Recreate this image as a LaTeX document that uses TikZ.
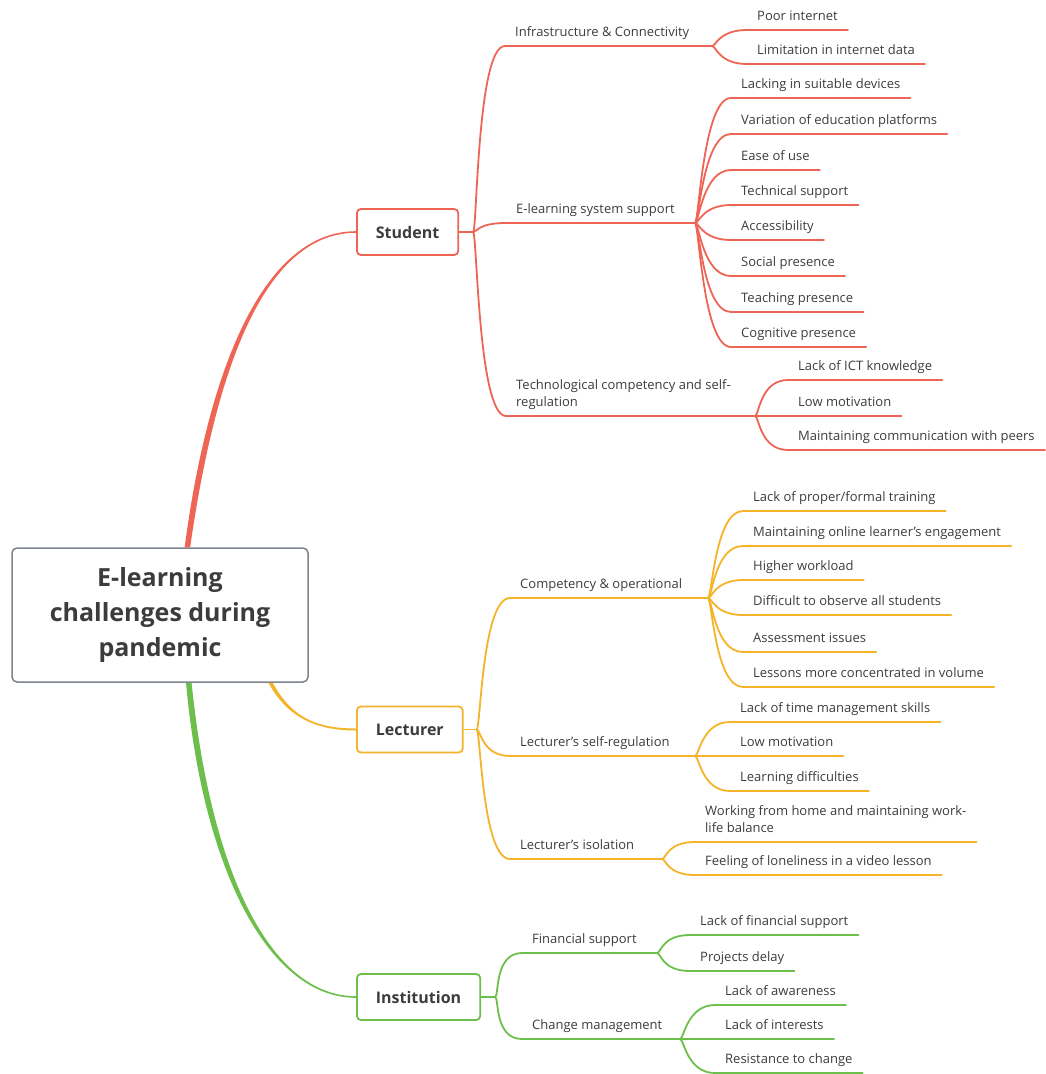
\documentclass[tikz,border=0pt]{standalone}
\usepackage{fontspec}
\setmainfont{Open Sans}
\definecolor{stured}{HTML}{EE6555}
\definecolor{lecorange}{HTML}{F4B328}
\definecolor{insgreen}{HTML}{6CBF4B}
\definecolor{rootgray}{HTML}{7D8490}
\definecolor{txt}{HTML}{3C3C3C}
\begin{document}
\begin{tikzpicture}
	[x=1pt,y=-1pt,
	root/.style={draw=rootgray,line width=1.5pt,rounded corners=5pt,fill=white,minimum width=296pt,minimum height=134pt,align=center,font=\fontsize{25}{35}\selectfont\bfseries,text=txt},
	topic/.style={draw=#1,line width=1.8pt,rounded corners=4pt,fill=white,minimum height=46pt,inner xsep=19pt,font=\fontsize{16}{19}\selectfont\bfseries,text=txt,anchor=west},
	sub/.style={anchor=south west,inner xsep=10pt,inner ysep=6pt,text height=9pt,text depth=3pt,font=\fontsize{13}{17}\selectfont,text=txt},
	leaf/.style={sub},
	fan/.style={to path={.. controls +(4,0) and +(-28,0) .. (\tikztotarget)}},
	sline/.style={stured,line width=1.8pt,line cap=round},
	lline/.style={lecorange,line width=1.8pt,line cap=round},
	iline/.style={insgreen,line width=1.8pt,line cap=round}]
	\useasboundingbox (0,0) rectangle (1045,1074);
	
	% centre and main topics
	\node[root] (root) at (160,615) {E-learning\\challenges during\\pandemic};
	\node[topic=stured] (student) at (356,232) {Student};
	\node[topic=lecorange] (lecturer) at (356,729.5) {Lecturer};
	\node[topic=insgreen] (institution) at (356,997) {Institution};
	
	\fill[stured] (root.70) .. controls +(22,-168) and +(-96,0) .. ([yshift=.8pt]student.west)
		-- ([yshift=-.8pt]student.west) .. controls +(-95,0) and +(24,-168) .. (root.66) -- cycle;
	\fill[lecorange] (root.-31.3) .. controls +(18,33) and +(-42,0) .. ([yshift=1pt]lecturer.west)
		-- ([yshift=-1pt]lecturer.west) .. controls +(-42,0) and +(18,33) .. (root.-32.7) -- cycle;
	\fill[insgreen] (root.-69) .. controls +(17,188) and +(-87,0) .. ([yshift=-.8pt]institution.west)
		-- ([yshift=.8pt]institution.west) .. controls +(-86,0) and +(19,188) .. (root.-65) -- cycle;
	
	% student
	\coordinate (sf) at ([xshift=14pt]student.east);
	\draw[sline] (student) -- (sf);
	\node[sub] (infra) at (505,46) {Infrastructure \& Connectivity};
	\node[sub] (esys) at (506,223) {E-learning system support};
	\node[sub] (tech) at (506,416) {\begin{tabular}[b]{@{}l@{}}Technological competency and self-\\regulation\end{tabular}};
	\coordinate (infraf) at (712,46);
	\coordinate (esysf) at (695,223);
	\coordinate (techf) at (755,416);
	\draw[sline] (sf) to[fan] (infra.south west) -- (infraf);
	\draw[sline] (sf) to[fan] (esys.south west) -- (esysf);
	\draw[sline] (sf) to[fan] (tech.south west) -- (techf);
	
	\node[leaf] (poor) at (747,30) {Poor internet};
	\node[leaf] (limit) at (747,64) {Limitation in internet data};
	\draw[sline] (infraf) to[fan] (poor.south west) -- (poor.south east);
	\draw[sline] (infraf) to[fan] (limit.south west) -- (limit.south east);
	
	\node[leaf] (device) at (731,98) {Lacking in suitable devices};
	\node[leaf] (platform) at (731,134) {Variation of education platforms};
	\node[leaf] (ease) at (731,170) {Ease of use};
	\node[leaf] (techsup) at (731,205) {Technical support};
	\node[leaf] (access) at (731,240) {Accessibility};
	\node[leaf] (social) at (731,276) {Social presence};
	\node[leaf] (teaching) at (731,312) {Teaching presence};
	\node[leaf] (cognitive) at (731,347) {Cognitive presence};
	\draw[sline] (esysf) to[fan] (device.south west) -- (device.south east);
	\draw[sline] (esysf) to[fan] (platform.south west) -- (platform.south east);
	\draw[sline] (esysf) to[fan] (ease.south west) -- (ease.south east);
	\draw[sline] (esysf) to[fan] (techsup.south west) -- (techsup.south east);
	\draw[sline] (esysf) to[fan] (access.south west) -- (access.south east);
	\draw[sline] (esysf) to[fan] (social.south west) -- (social.south east);
	\draw[sline] (esysf) to[fan] (teaching.south west) -- (teaching.south east);
	\draw[sline] (esysf) to[fan] (cognitive.south west) -- (cognitive.south east);
	
	\node[leaf] (ict) at (788,380) {Lack of ICT knowledge};
	\node[leaf] (smotiv) at (788,416) {Low motivation};
	\node[leaf] (peers) at (788,450) {Maintaining communication with peers};
	\draw[sline] (techf) to[fan] (ict.south west) -- (ict.south east);
	\draw[sline] (techf) to[fan] (smotiv.south west) -- (smotiv.south east);
	\draw[sline] (techf) to[fan] (peers.south west) -- (peers.south east);
	
	% lecturer
	\coordinate (lf) at ([xshift=13pt]lecturer.east);
	\draw[lline] (lecturer) -- (lf);
	\node[sub] (comp) at (510,598) {Competency \& operational};
	\node[sub] (selfreg) at (510,756) {Lecturer's self-regulation};
	\node[sub] (isol) at (510,859) {Lecturer's isolation};
	\coordinate (compf) at (708,598);
	\coordinate (selfregf) at (695,756);
	\coordinate (isolf) at (662,859);
	\draw[lline] (lf) to[fan] (comp.south west) -- (compf);
	\draw[lline] (lf) to[fan] (selfreg.south west) -- (selfregf);
	\draw[lline] (lf) to[fan] (isol.south west) -- (isolf);
	
	\node[leaf] (training) at (743,511) {Lack of proper/formal training};
	\node[leaf] (engage) at (743,546) {Maintaining online learner's engagement};
	\node[leaf] (workload) at (743,580) {Higher workload};
	\node[leaf] (observe) at (743,615) {Difficult to observe all students};
	\node[leaf] (assess) at (743,652) {Assessment issues};
	\node[leaf] (lessons) at (743,687) {Lessons more concentrated in volume};
	\draw[lline] (compf) to[fan] (training.south west) -- (training.south east);
	\draw[lline] (compf) to[fan] (engage.south west) -- (engage.south east);
	\draw[lline] (compf) to[fan] (workload.south west) -- (workload.south east);
	\draw[lline] (compf) to[fan] (observe.south west) -- (observe.south east);
	\draw[lline] (compf) to[fan] (assess.south west) -- (assess.south east);
	\draw[lline] (compf) to[fan] (lessons.south west) -- (lessons.south east);
	
	\node[leaf] (timemgmt) at (730,722) {Lack of time management skills};
	\node[leaf] (lmotiv) at (730,756) {Low motivation};
	\node[leaf] (learndiff) at (730,791) {Learning difficulties};
	\draw[lline] (selfregf) to[fan] (timemgmt.south west) -- (timemgmt.south east);
	\draw[lline] (selfregf) to[fan] (lmotiv.south west) -- (lmotiv.south east);
	\draw[lline] (selfregf) to[fan] (learndiff.south west) -- (learndiff.south east);
	
	\node[leaf] (home) at (695,842) {\begin{tabular}[b]{@{}l@{}}Working from home and maintaining work-\\life balance\end{tabular}};
	\node[leaf] (lonely) at (695,875) {Feeling of loneliness in a video lesson};
	\draw[lline] (isolf) to[fan] (home.south west) -- (home.south east);
	\draw[lline] (isolf) to[fan] (lonely.south west) -- (lonely.south east);
	
	% institution
	\coordinate (nf) at ([xshift=14pt]institution.east);
	\draw[iline] (institution) -- (nf);
	\node[sub] (finance) at (522,953) {Financial support};
	\node[sub] (change) at (522,1039) {Change management};
	\coordinate (financef) at (657,953);
	\coordinate (changef) at (680,1039);
	\draw[iline] (nf) to[fan] (finance.south west) -- (financef);
	\draw[iline] (nf) to[fan] (change.south west) -- (changef);
	
	\node[leaf] (funds) at (690,935) {Lack of financial support};
	\node[leaf] (delay) at (690,971) {Projects delay};
	\draw[iline] (financef) to[fan] (funds.south west) -- (funds.south east);
	\draw[iline] (financef) to[fan] (delay.south west) -- (delay.south east);
	
	\node[leaf] (aware) at (715,1005) {Lack of awareness};
	\node[leaf] (interest) at (715,1039) {Lack of interests};
	\node[leaf] (resist) at (715,1073) {Resistance to change};
	\draw[iline] (changef) to[fan] (aware.south west) -- (aware.south east);
	\draw[iline] (changef) to[fan] (interest.south west) -- (interest.south east);
	\draw[iline] (changef) to[fan] (resist.south west) -- (resist.south east);
\end{tikzpicture}
\end{document}
